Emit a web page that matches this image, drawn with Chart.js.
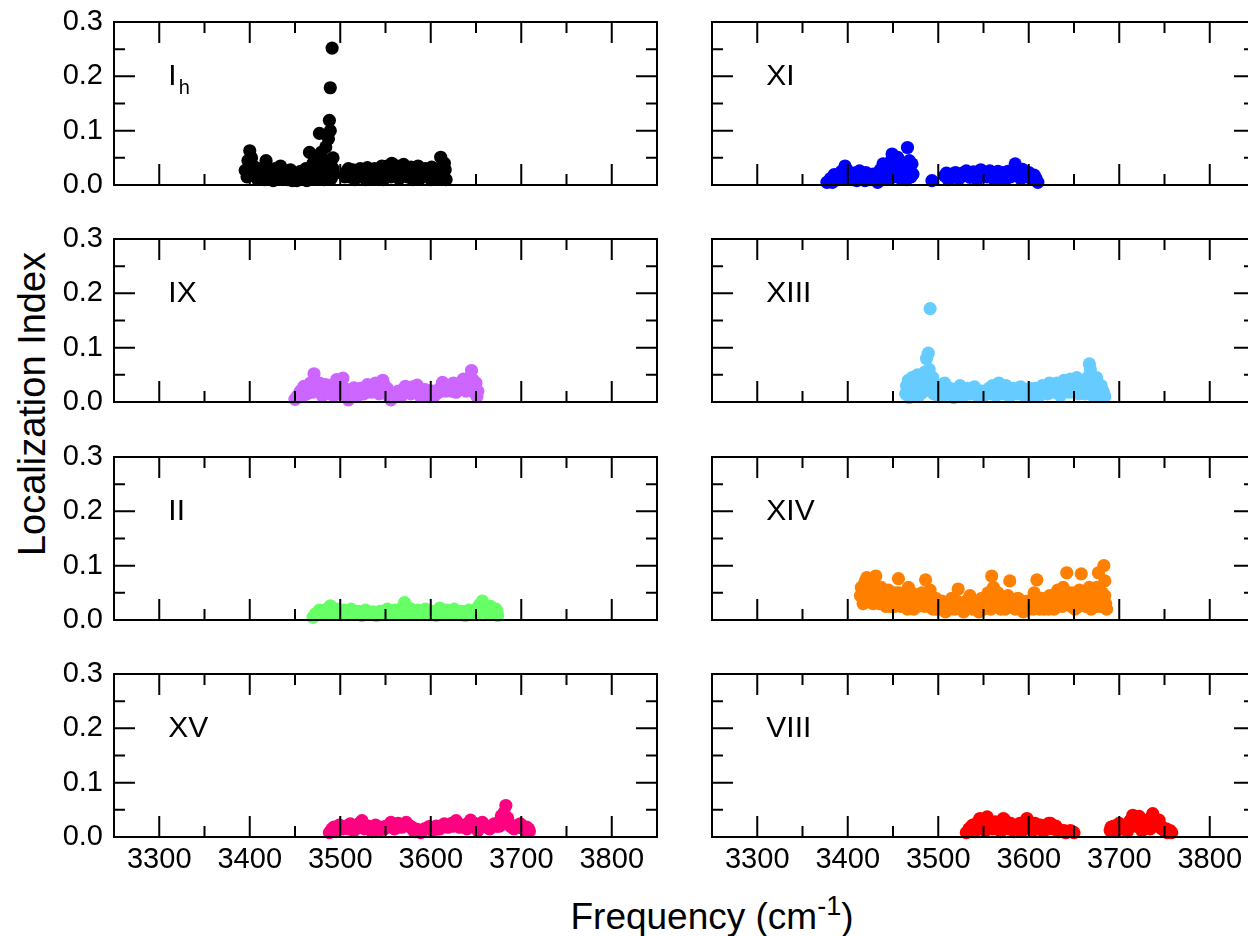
<!DOCTYPE html>
<html>
<head>
<meta charset="utf-8">
<title>Localization index of OH stretching modes</title>
<script src="https://cdn.jsdelivr.net/npm/chart.js@4.4.1/dist/chart.umd.min.js"></script>
<style>
  html, body { margin: 0; padding: 0; background: #fff; }
  body { position: relative; width: 1248px; height: 936px; overflow: hidden;
         font-family: "Liberation Sans", Arial, Helvetica, sans-serif; color: #000; }
  canvas.panel { position: absolute; }
  #yTitle { position: absolute; left: 32px; top: 404px; width: 420px; height: 40px;
            margin: -20px 0 0 -210px; line-height: 40px; text-align: center;
            font-size: 38px; white-space: nowrap; transform: rotate(-90deg); }
  #xTitle { position: absolute; left: 412px; top: 897px; width: 600px; height: 40px;
            line-height: 40px; text-align: center; font-size: 37px; white-space: nowrap; }
  #xTitle .sup { position: relative; top: -14px; font-size: 27px; }
</style>
</head>
<body>
<div id="yTitle">Localization Index</div>
<div id="xTitle">Frequency (cm<span class="sup">-1</span>)</div>

<script>
// axis ticks
const xMajor = [3300, 3400, 3500, 3600, 3700, 3800];
const xMinor = [3350, 3450, 3550, 3650, 3750];
const yMajor = [0, 0.1, 0.2, 0.3];
const yMinor = [0.05, 0.15, 0.25];

// [frequency (cm-1), localization index]
const ih = [
  [3395,0.027],[3398,0.045],[3400,0.063],[3402,0.05],[3404,0.035],[3406,0.022],[3410,0.03],
  [3413,0.018],[3418,0.045],[3420,0.028],[3424,0.015],[3428,0.03],[3432,0.012],[3434,0.035],
  [3438,0.02],[3442,0.01],[3445,0.028],[3449,0.015],[3452,0.008],[3456,0.025],[3458,0.012],
  [3462,0.03],[3464,0.015],[3466,0.06],[3468,0.025],[3470,0.04],[3472,0.012],[3474,0.05],
  [3476,0.03],[3477,0.095],[3479,0.06],[3481,0.02],[3483,0.045],[3484,0.07],[3486,0.015],
  [3487,0.085],[3488,0.119],[3489,0.1],[3489,0.179],[3490,0.035],[3491,0.252],[3492,0.05],
  [3493,0.02],
  [3397,0.015],[3401,0.02],[3408,0.012],[3412,0.025],[3416,0.01],[3422,0.02],[3426,0.008],
  [3430,0.022],[3436,0.015],[3440,0.025],[3444,0.018],[3447,0.008],[3451,0.02],[3454,0.015],
  [3460,0.018],[3463,0.008],[3467,0.018],[3471,0.028],[3475,0.015],[3478,0.025],[3480,0.035],
  [3482,0.01],[3485,0.03],[3488,0.025],[3490,0.012],[3492,0.03],
  [3507,0.025],[3510,0.015],[3514,0.028],[3518,0.018],[3522,0.03],[3526,0.015],[3530,0.032],
  [3534,0.02],[3538,0.03],[3542,0.012],[3546,0.035],[3550,0.022],[3554,0.03],[3557,0.04],
  [3560,0.018],[3563,0.035],[3567,0.025],[3570,0.038],[3574,0.015],[3578,0.033],[3582,0.022],
  [3586,0.035],[3590,0.02],[3594,0.03],[3598,0.015],[3601,0.033],[3605,0.022],[3608,0.03],
  [3611,0.051],[3613,0.025],[3615,0.04],[3617,0.01],
  [3505,0.015],[3509,0.03],[3512,0.022],[3516,0.01],[3520,0.022],[3524,0.025],[3528,0.01],
  [3532,0.025],[3536,0.012],[3540,0.025],[3544,0.02],[3548,0.01],[3552,0.035],[3556,0.015],
  [3559,0.03],[3565,0.012],[3569,0.025],[3572,0.03],[3576,0.022],[3580,0.01],[3584,0.03],
  [3588,0.012],[3592,0.025],[3596,0.022],[3600,0.01],[3603,0.025],[3607,0.012],[3610,0.02],
  [3614,0.015],[3616,0.028]
];

const xi = [
  [3377,0.005],[3381,0.012],[3385,0.019],[3389,0.01],[3393,0.025],[3397,0.035],[3400,0.018],
  [3403,0.014],[3407,0.022],[3410,0.008],[3413,0.026],[3417,0.015],[3420,0.023],[3424,0.01],
  [3428,0.02],[3433,0.005],[3436,0.028],[3439,0.039],[3442,0.018],[3446,0.03],[3449,0.057],
  [3452,0.025],[3455,0.051],[3457,0.035],[3459,0.011],[3462,0.04],[3464,0.02],[3466,0.069],
  [3468,0.045],[3471,0.039],[3472,0.02],
  [3383,0.005],[3391,0.015],[3395,0.012],[3399,0.028],[3405,0.01],[3409,0.02],[3415,0.02],
  [3419,0.008],[3422,0.018],[3426,0.015],[3430,0.012],[3435,0.015],[3438,0.01],[3441,0.03],
  [3444,0.012],[3448,0.045],[3451,0.015],[3454,0.035],[3456,0.02],[3461,0.028],[3465,0.01],
  [3467,0.03],[3470,0.015],
  [3493,0.008],
  [3507,0.017],[3511,0.01],[3515,0.02],[3519,0.023],[3523,0.012],[3527,0.022],[3531,0.026],
  [3535,0.014],[3539,0.024],[3543,0.01],[3547,0.028],[3551,0.018],[3554,0.015],[3557,0.026],
  [3561,0.012],[3564,0.02],[3568,0.015],[3571,0.023],[3575,0.012],[3578,0.02],[3582,0.027],
  [3585,0.039],[3588,0.018],[3591,0.012],[3593,0.029],[3597,0.015],[3600,0.023],[3603,0.012],
  [3606,0.018],[3610,0.005],
  [3509,0.022],[3513,0.012],[3517,0.015],[3521,0.02],[3525,0.015],[3529,0.018],[3533,0.02],
  [3537,0.02],[3541,0.015],[3545,0.02],[3549,0.025],[3553,0.02],[3559,0.018],[3562,0.022],
  [3566,0.025],[3570,0.012],[3573,0.02],[3577,0.025],[3580,0.015],[3584,0.02],[3587,0.03],
  [3590,0.022],[3595,0.02],[3599,0.018],[3602,0.018],[3605,0.01],[3608,0.012]
];

const ix = [
  [3450,0.005],[3453,0.012],[3456,0.02],[3460,0.029],[3463,0.015],[3467,0.035],[3471,0.052],
  [3474,0.02],[3477,0.035],[3480,0.012],[3484,0.032],[3487,0.018],[3490,0.03],[3493,0.012],
  [3496,0.041],[3500,0.025],[3503,0.044],[3506,0.015],[3509,0.004],[3512,0.02],[3515,0.026],
  [3519,0.012],[3522,0.025],[3526,0.015],[3530,0.032],[3534,0.018],[3539,0.035],[3543,0.015],
  [3547,0.04],[3550,0.02],[3553,0.012],[3556,0.004],[3560,0.015],[3564,0.02],[3568,0.012],
  [3572,0.029],[3576,0.018],[3580,0.028],[3585,0.031],[3588,0.012],[3591,0.02],[3594,0.023],
  [3598,0.01],[3602,0.02],[3606,0.015],[3610,0.025],[3613,0.036],[3617,0.02],[3621,0.03],
  [3625,0.035],[3628,0.018],[3632,0.03],[3636,0.042],[3639,0.02],[3642,0.035],[3645,0.058],
  [3647,0.04],[3649,0.029],[3651,0.01],[3652,0.02],
  [3452,0.008],[3458,0.01],[3462,0.022],[3465,0.025],[3469,0.018],[3473,0.03],[3476,0.025],
  [3479,0.022],[3482,0.02],[3486,0.025],[3489,0.015],[3492,0.022],[3495,0.018],[3498,0.03],
  [3502,0.015],[3505,0.025],[3508,0.012],[3511,0.012],[3514,0.015],[3517,0.022],[3521,0.018],
  [3524,0.02],[3528,0.022],[3532,0.025],[3536,0.025],[3541,0.02],[3545,0.025],[3549,0.03],
  [3552,0.025],[3555,0.015],[3558,0.01],[3562,0.012],[3566,0.015],[3570,0.02],[3574,0.02],
  [3578,0.015],[3583,0.02],[3587,0.025],[3590,0.015],[3596,0.015],[3600,0.015],[3604,0.012],
  [3608,0.018],[3612,0.02],[3615,0.025],[3619,0.025],[3623,0.02],[3627,0.028],[3630,0.022],
  [3634,0.025],[3638,0.03],[3641,0.025],[3644,0.03],[3648,0.018],[3650,0.035]
];

const xiii = [
  [3464,0.015],[3465,0.03],[3467,0.04],[3468,0.008],[3470,0.025],[3471,0.045],[3473,0.015],
  [3475,0.035],[3477,0.05],[3478,0.01],[3480,0.03],[3482,0.04],[3483,0.018],[3485,0.055],
  [3486,0.025],[3487,0.08],[3488,0.04],[3489,0.09],[3490,0.06],[3491,0.172],[3492,0.03],
  [3494,0.045],[3495,0.015],[3498,0.025],[3501,0.01],[3504,0.02],[3507,0.035],[3510,0.015],
  [3513,0.025],[3517,0.008],[3520,0.02],[3524,0.03],[3528,0.012],[3532,0.025],[3536,0.015],
  [3540,0.028],[3544,0.01],[3548,0.02],[3552,0.015],[3556,0.025],[3560,0.03],[3564,0.012],
  [3567,0.035],[3571,0.02],[3575,0.03],[3579,0.01],[3583,0.025],[3587,0.015],[3591,0.028],
  [3595,0.012],[3599,0.02],[3603,0.015],[3607,0.025],[3611,0.01],[3615,0.03],[3619,0.018],
  [3623,0.035],[3627,0.02],[3631,0.035],[3635,0.012],[3639,0.04],[3643,0.025],[3646,0.042],
  [3650,0.02],[3653,0.045],[3656,0.03],[3659,0.04],[3662,0.015],[3665,0.045],[3667,0.07],
  [3668,0.06],[3670,0.035],[3672,0.02],[3675,0.045],[3677,0.01],[3680,0.03],[3682,0.02],
  [3684,0.01],
  [3466,0.02],[3469,0.035],[3472,0.03],[3474,0.025],[3476,0.02],[3479,0.04],[3481,0.02],
  [3484,0.03],[3489,0.03],[3491,0.045],[3493,0.02],[3496,0.03],[3499,0.015],[3502,0.02],
  [3505,0.012],[3509,0.025],[3512,0.018],[3515,0.015],[3519,0.015],[3522,0.012],[3526,0.02],
  [3530,0.018],[3534,0.015],[3538,0.02],[3542,0.015],[3546,0.018],[3550,0.012],[3554,0.02],
  [3558,0.015],[3562,0.02],[3566,0.015],[3569,0.02],[3573,0.015],[3577,0.02],[3581,0.015],
  [3585,0.018],[3589,0.02],[3593,0.018],[3597,0.015],[3601,0.025],[3605,0.012],[3609,0.02],
  [3613,0.018],[3617,0.025],[3621,0.015],[3625,0.025],[3629,0.018],[3633,0.025],[3637,0.02],
  [3641,0.03],[3645,0.018],[3648,0.03],[3652,0.025],[3655,0.015],[3658,0.025],[3661,0.035],
  [3664,0.02],[3669,0.045],[3671,0.012],[3674,0.025],[3676,0.03],[3679,0.015],[3683,0.015]
];

const ii = [
  [3470,0.005],[3473,0.012],[3477,0.018],[3481,0.01],[3485,0.02],[3489,0.026],[3492,0.015],
  [3496,0.02],[3500,0.01],[3504,0.018],[3508,0.012],[3512,0.02],[3516,0.01],[3520,0.016],
  [3524,0.008],[3528,0.018],[3532,0.012],[3536,0.015],[3540,0.008],[3544,0.016],[3548,0.012],
  [3552,0.02],[3556,0.01],[3560,0.018],[3564,0.012],[3568,0.022],[3571,0.032],[3574,0.015],
  [3578,0.02],[3582,0.01],[3586,0.018],[3590,0.012],[3594,0.02],[3598,0.01],[3602,0.016],
  [3606,0.008],[3610,0.022],[3614,0.012],[3618,0.018],[3622,0.01],[3626,0.02],[3630,0.012],
  [3634,0.016],[3638,0.008],[3642,0.018],[3646,0.012],[3650,0.02],[3654,0.028],[3657,0.035],
  [3660,0.02],[3663,0.012],[3666,0.025],[3669,0.015],[3672,0.02],[3674,0.008],
  [3475,0.01],[3479,0.012],[3483,0.015],[3487,0.012],[3491,0.02],[3494,0.012],[3498,0.015],
  [3502,0.015],[3506,0.01],[3510,0.015],[3514,0.015],[3518,0.012],[3522,0.015],[3526,0.012],
  [3530,0.012],[3534,0.01],[3538,0.012],[3542,0.012],[3546,0.01],[3550,0.015],[3554,0.012],
  [3558,0.012],[3562,0.015],[3566,0.012],[3570,0.015],[3573,0.02],[3576,0.012],[3580,0.015],
  [3584,0.012],[3588,0.015],[3592,0.015],[3596,0.012],[3600,0.015],[3604,0.012],[3608,0.012],
  [3612,0.015],[3616,0.012],[3620,0.015],[3624,0.012],[3628,0.015],[3632,0.01],[3636,0.012],
  [3640,0.012],[3644,0.015],[3648,0.015],[3652,0.012],[3656,0.02],[3658,0.025],[3662,0.018],
  [3665,0.012],[3668,0.02],[3671,0.012],[3673,0.015]
];

const xiv = [
  [3414,0.045],[3415,0.06],[3417,0.03],[3419,0.07],[3421,0.078],[3423,0.05],[3425,0.035],
  [3427,0.065],[3429,0.045],[3431,0.081],[3433,0.055],[3435,0.03],[3437,0.06],[3440,0.045],
  [3442,0.025],[3445,0.055],[3448,0.04],[3450,0.03],[3453,0.05],[3456,0.076],[3458,0.035],
  [3461,0.045],[3464,0.025],[3467,0.06],[3470,0.04],[3473,0.02],[3476,0.045],[3479,0.03],
  [3482,0.05],[3486,0.074],[3488,0.035],[3491,0.055],[3494,0.02],[3497,0.04],[3500,0.028],
  [3504,0.035],[3508,0.015],[3511,0.03],[3515,0.04],[3518,0.02],[3522,0.057],[3525,0.03],
  [3528,0.015],[3531,0.035],[3535,0.045],[3538,0.02],[3541,0.03],[3545,0.015],[3548,0.04],
  [3552,0.025],[3555,0.05],[3559,0.081],[3561,0.06],[3563,0.035],[3566,0.05],[3569,0.02],
  [3572,0.04],[3575,0.03],[3579,0.072],[3582,0.035],[3585,0.02],[3588,0.04],[3591,0.025],
  [3594,0.015],[3597,0.03],[3600,0.02],[3603,0.035],[3606,0.05],[3609,0.074],[3611,0.03],
  [3614,0.04],[3617,0.02],[3620,0.035],[3623,0.045],[3626,0.025],[3629,0.04],[3632,0.055],
  [3635,0.03],[3638,0.06],[3640,0.045],[3642,0.087],[3645,0.035],[3648,0.05],[3651,0.02],
  [3654,0.04],[3656,0.055],[3658,0.085],[3661,0.03],[3664,0.045],[3667,0.06],[3670,0.025],
  [3673,0.045],[3675,0.06],[3677,0.087],[3679,0.035],[3681,0.05],[3683,0.1],[3684,0.072],
  [3685,0.03],
  [3416,0.045],[3418,0.055],[3420,0.035],[3422,0.06],[3424,0.04],[3426,0.05],[3428,0.03],
  [3430,0.05],[3432,0.04],[3434,0.045],[3436,0.04],[3438,0.03],[3439,0.05],[3441,0.035],
  [3443,0.045],[3444,0.03],[3446,0.04],[3447,0.025],[3449,0.045],[3451,0.04],[3452,0.025],
  [3455,0.035],[3457,0.05],[3459,0.025],[3460,0.04],[3463,0.035],[3465,0.045],[3466,0.02],
  [3469,0.03],[3471,0.05],[3472,0.03],[3474,0.035],[3477,0.025],[3478,0.04],[3481,0.03],
  [3484,0.04],[3485,0.025],[3487,0.05],[3490,0.025],[3492,0.04],[3495,0.03],[3498,0.02],
  [3501,0.035],[3503,0.02],[3506,0.03],[3510,0.025],[3513,0.02],[3516,0.03],[3520,0.035],
  [3523,0.025],[3527,0.025],[3530,0.02],[3533,0.025],[3536,0.03],[3540,0.025],[3543,0.02],
  [3547,0.025],[3550,0.02],[3554,0.03],[3557,0.04],[3558,0.02],[3565,0.03],[3568,0.035],
  [3571,0.025],[3574,0.02],[3577,0.045],[3580,0.025],[3584,0.035],[3587,0.025],[3590,0.03],
  [3593,0.035],[3596,0.02],[3599,0.035],[3602,0.025],[3605,0.02],[3608,0.04],[3612,0.02],
  [3616,0.035],[3619,0.025],[3622,0.02],[3625,0.035],[3628,0.02],[3631,0.03],[3634,0.045],
  [3637,0.025],[3641,0.03],[3644,0.05],[3647,0.025],[3650,0.04],[3653,0.03],[3655,0.025],
  [3657,0.04],[3660,0.05],[3663,0.025],[3666,0.035],[3668,0.05],[3669,0.02],[3672,0.035],
  [3674,0.025],[3676,0.045],[3678,0.025],[3680,0.04],[3682,0.025],[3684,0.045],[3686,0.02]
];

const xv = [
  [3488,0.008],[3491,0.015],[3495,0.012],[3499,0.022],[3503,0.015],[3507,0.02],[3511,0.024],
  [3515,0.012],[3519,0.02],[3524,0.03],[3527,0.015],[3531,0.02],[3535,0.01],[3539,0.022],
  [3543,0.012],[3547,0.018],[3551,0.02],[3556,0.027],[3560,0.015],[3564,0.025],[3568,0.018],
  [3573,0.027],[3577,0.02],[3581,0.012],[3585,0.014],[3589,0.008],[3593,0.015],[3598,0.019],
  [3602,0.012],[3606,0.02],[3610,0.015],[3615,0.024],[3619,0.018],[3623,0.025],[3628,0.03],
  [3632,0.018],[3636,0.022],[3640,0.015],[3644,0.031],[3648,0.025],[3652,0.012],[3657,0.027],
  [3661,0.02],[3665,0.015],[3670,0.024],[3674,0.02],[3677,0.03],[3678,0.039],[3681,0.045],
  [3683,0.058],[3685,0.035],[3688,0.02],[3692,0.015],[3696,0.022],[3699,0.024],[3703,0.015],
  [3706,0.018],[3709,0.011],
  [3490,0.012],[3493,0.018],[3497,0.015],[3501,0.02],[3505,0.018],[3509,0.015],[3513,0.02],
  [3517,0.015],[3521,0.025],[3525,0.02],[3529,0.02],[3533,0.015],[3537,0.018],[3541,0.015],
  [3545,0.015],[3549,0.015],[3553,0.02],[3558,0.02],[3562,0.02],[3566,0.02],[3570,0.022],
  [3575,0.02],[3579,0.018],[3583,0.01],[3587,0.012],[3591,0.012],[3595,0.015],[3600,0.015],
  [3604,0.015],[3608,0.015],[3612,0.02],[3617,0.02],[3621,0.02],[3625,0.02],[3630,0.022],
  [3634,0.02],[3638,0.018],[3642,0.025],[3646,0.02],[3650,0.02],[3654,0.02],[3659,0.022],
  [3663,0.018],[3667,0.02],[3672,0.02],[3676,0.02],[3680,0.03],[3682,0.035],[3686,0.025],
  [3690,0.018],[3694,0.02],[3698,0.018],[3701,0.02],[3705,0.012],[3708,0.015]
];

const viii = [
  [3531,0.008],[3534,0.015],[3538,0.022],[3541,0.01],[3544,0.028],[3546,0.034],[3549,0.02],
  [3552,0.012],[3554,0.037],[3557,0.025],[3560,0.015],[3563,0.028],[3566,0.02],[3569,0.01],
  [3572,0.034],[3575,0.025],[3578,0.015],[3581,0.022],[3584,0.01],[3587,0.02],[3590,0.025],
  [3593,0.012],[3596,0.028],[3598,0.034],[3601,0.02],[3604,0.012],[3607,0.025],[3610,0.015],
  [3613,0.022],[3616,0.01],[3619,0.02],[3622,0.025],[3624,0.025],[3627,0.015],[3630,0.02],
  [3633,0.01],[3637,0.01],[3641,0.008],[3646,0.012],[3650,0.008],
  [3533,0.01],[3536,0.018],[3540,0.02],[3543,0.015],[3547,0.025],[3551,0.025],[3553,0.02],
  [3556,0.03],[3559,0.02],[3562,0.02],[3565,0.025],[3568,0.015],[3571,0.02],[3574,0.03],
  [3577,0.02],[3580,0.025],[3583,0.015],[3586,0.015],[3589,0.015],[3592,0.02],[3595,0.02],
  [3597,0.02],[3600,0.028],[3603,0.018],[3606,0.02],[3609,0.02],[3612,0.015],[3615,0.02],
  [3618,0.015],[3621,0.015],[3623,0.02],[3626,0.02],[3629,0.015],[3632,0.015],[3635,0.012],
  [3639,0.012],[3644,0.01],[3648,0.01],
  [3690,0.012],[3693,0.016],[3696,0.01],[3700,0.025],[3703,0.015],[3706,0.02],[3709,0.01],
  [3712,0.03],[3715,0.04],[3718,0.02],[3720,0.035],[3722,0.038],[3725,0.012],[3728,0.025],
  [3731,0.03],[3734,0.015],[3737,0.043],[3739,0.03],[3742,0.02],[3744,0.031],[3747,0.015],
  [3750,0.012],[3753,0.008],[3755,0.01],[3758,0.008],
  [3691,0.018],[3694,0.02],[3698,0.018],[3701,0.015],[3704,0.02],[3708,0.015],[3711,0.02],
  [3713,0.025],[3716,0.03],[3719,0.03],[3721,0.025],[3724,0.02],[3727,0.03],[3730,0.02],
  [3733,0.03],[3735,0.035],[3738,0.025],[3741,0.025],[3743,0.02],[3746,0.02],[3749,0.015],
  [3752,0.015],[3756,0.012]
];

const panels = [
  { name: 'I',    sub: 'h', points: ih,   color: '#000000', row: 0, col: 0 },
  { name: 'XI',   sub: '',  points: xi,   color: '#0000ff', row: 0, col: 1 },
  { name: 'IX',   sub: '',  points: ix,   color: '#cc66ff', row: 1, col: 0 },
  { name: 'XIII', sub: '',  points: xiii, color: '#66ccff', row: 1, col: 1 },
  { name: 'II',   sub: '',  points: ii,   color: '#66ff66', row: 2, col: 0 },
  { name: 'XIV',  sub: '',  points: xiv,  color: '#ff8000', row: 2, col: 1 },
  { name: 'XV',   sub: '',  points: xv,   color: '#ff0080', row: 3, col: 0 },
  { name: 'VIII', sub: '',  points: viii, color: '#ff0000', row: 3, col: 1 }
];

const FONT = '"Liberation Sans", Arial, Helvetica, sans-serif';
// the y labels reserve half a line plus their padding above and below the plot,
// so keep at least that much room on both sides
const PLOT_H = 163, ROW_STEP = 217.3, FIRST_TOP = 22, PAD_TOP = 34;
const columns = [
  { left: 0,   width: 680, axisW: 114, padRight: 23 },
  { left: 680, width: 600, axisW: 32,  padRight: 25 }
];

// closed frame with inward ticks on all four sides, plus the panel name
const frameTicks = {
  id: 'frameTicks',
  afterDatasetsDraw(chart, args, opts) {
    const { ctx, chartArea: a, scales: { x, y } } = chart;
    ctx.save();
    ctx.strokeStyle = '#000';
    ctx.lineWidth = 2;
    ctx.beginPath();
    const vTick = (v, len) => {
      const px = x.getPixelForValue(v);
      ctx.moveTo(px, a.bottom); ctx.lineTo(px, a.bottom - len);
      ctx.moveTo(px, a.top);    ctx.lineTo(px, a.top + len);
    };
    const hTick = (v, len) => {
      const py = y.getPixelForValue(v);
      ctx.moveTo(a.left, py);  ctx.lineTo(a.left + len, py);
      ctx.moveTo(a.right, py); ctx.lineTo(a.right - len, py);
    };
    xMajor.forEach(v => vTick(v, 21));
    xMinor.forEach(v => vTick(v, 11));
    yMajor.forEach(v => hTick(v, 21));
    yMinor.forEach(v => hTick(v, 11));
    ctx.stroke();
    ctx.strokeRect(a.left, a.top, a.width, a.height);

    ctx.fillStyle = '#000';
    ctx.textBaseline = 'middle';
    ctx.textAlign = 'left';
    ctx.font = '30px ' + FONT;
    const lx = x.getPixelForValue(3310), ly = y.getPixelForValue(0.2);
    ctx.fillText(opts.name, lx, ly);
    if (opts.sub) {
      const w = ctx.measureText(opts.name).width;
      ctx.font = '20px ' + FONT;
      ctx.fillText(opts.sub, lx + w + 2, ly + 12);
    }
    ctx.restore();
  }
};

panels.forEach(p => {
  const col = columns[p.col];
  const bottomRow = p.row === 3;
  const xAxisH = bottomRow ? 52 : PAD_TOP;
  const canvas = document.createElement('canvas');
  canvas.className = 'panel';
  canvas.width = col.width;
  canvas.height = PAD_TOP + PLOT_H + xAxisH;
  canvas.style.left = col.left + 'px';
  canvas.style.top = (FIRST_TOP + p.row * ROW_STEP - PAD_TOP) + 'px';
  document.body.appendChild(canvas);

  new Chart(canvas, {
    type: 'scatter',
    data: {
      datasets: [{
        data: p.points.map(([f, v]) => ({ x: f, y: v })),
        backgroundColor: p.color,
        borderWidth: 0,
        pointRadius: 6.6,
        clip: false
      }]
    },
    options: {
      responsive: false,
      animation: false,
      events: [],
      layout: { padding: { top: PAD_TOP, left: 0, right: col.padRight, bottom: 0 } },
      plugins: {
        legend: { display: false },
        tooltip: { enabled: false },
        frameTicks: { name: p.name, sub: p.sub }
      },
      scales: {
        x: {
          type: 'linear',
          min: 3250,
          max: 3850,
          afterBuildTicks: s => { s.ticks = xMajor.map(v => ({ value: v })); },
          afterFit: s => { s.height = xAxisH; },
          grid: { display: false, drawTicks: false },
          border: { display: false },
          ticks: {
            display: bottomRow,
            padding: 6,
            color: '#000',
            font: { family: FONT, size: 29 },
            maxRotation: 0,
            autoSkip: false,
            callback: v => String(v)
          }
        },
        y: {
          type: 'linear',
          min: 0,
          max: 0.3,
          afterBuildTicks: s => { s.ticks = yMajor.map(v => ({ value: v })); },
          afterFit: s => { s.width = col.axisW; },
          grid: { display: false, drawTicks: false },
          border: { display: false },
          ticks: {
            display: p.col === 0,
            padding: 11,
            color: '#000',
            font: { family: FONT, size: 29 },
            callback: v => v.toFixed(1)
          }
        }
      }
    },
    plugins: [frameTicks]
  });
});
</script>
</body>
</html>
